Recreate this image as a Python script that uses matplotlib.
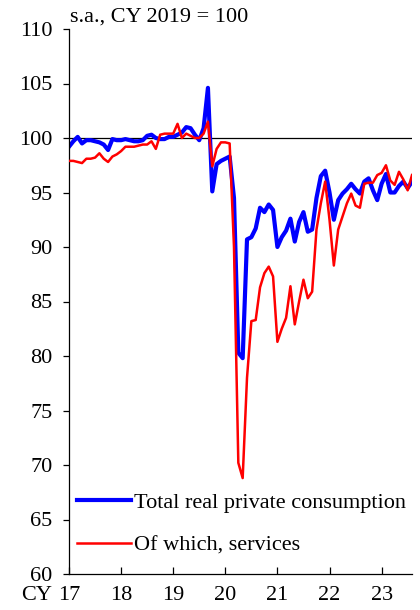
import matplotlib.pyplot as plt
from matplotlib.transforms import offset_copy
import numpy as np

plt.rcParams['font.family'] = ['Liberation Serif', 'DejaVu Serif']
plt.rcParams['font.size'] = 16

# monthly, Jan 2017 - Aug 2023 (s.a., CY2019 = 100)
total = [
    99.2, 99.7, 100.1, 99.5, 99.8, 99.8, 99.7, 99.6, 99.4, 98.9, 99.9, 99.8,       # 2017
    99.8, 99.9, 99.8, 99.7, 99.7, 99.8, 100.2, 100.3, 100.0, 99.9, 99.9, 100.1,    # 2018
    100.1, 100.3, 100.5, 101.0, 100.9, 100.3, 99.8, 100.9, 104.6, 95.1, 97.6, 97.9,  # 2019
    98.1, 98.3, 94.5, 80.3, 79.8, 90.7, 90.9, 91.7, 93.6, 93.2, 93.9, 93.4,        # 2020
    90.0, 90.9, 91.5, 92.6, 90.5, 92.3, 93.2, 91.4, 91.6, 94.5, 96.5, 97.0,        # 2021
    95.0, 92.5, 94.3, 94.9, 95.3, 95.8, 95.3, 94.9, 96.0, 96.3, 95.2, 94.3,        # 2022
    95.8, 96.7, 95.0, 95.0, 95.6, 96.0, 95.4, 96.0,                                # 2023
]
services = [
    97.9, 97.9, 97.8, 97.7, 98.1, 98.1, 98.2, 98.6, 98.1, 97.8, 98.3, 98.5,        # 2017
    98.8, 99.2, 99.2, 99.2, 99.3, 99.4, 99.4, 99.7, 99.0, 100.3, 100.4, 100.4,     # 2018
    100.4, 101.3, 100.0, 100.4, 100.2, 100.0, 100.0, 100.4, 101.5, 97.4, 99.0, 99.6,  # 2019
    99.6, 99.5, 90.0, 70.2, 68.8, 78.0, 83.2, 83.3, 86.3, 87.6, 88.2, 87.3,        # 2020
    81.3, 82.5, 83.5, 86.4, 82.9, 85.0, 87.0, 85.3, 85.9, 91.6, 94.0, 96.0,        # 2021
    92.5, 88.3, 91.6, 92.8, 94.0, 94.9, 93.8, 93.6, 95.8, 95.9, 95.9, 96.6,        # 2022
    96.8, 97.5, 96.1, 95.7, 96.9, 96.2, 95.2, 96.6,                                # 2023
]
years = [17, 18, 19, 20, 21, 22, 23]

x = 2017 + np.arange(len(total)) / 12

fig = plt.figure(figsize=(4.2, 6.1), dpi=100)
ax = fig.add_axes([69/420, 1-574/610, 343/420, 545/610])

ax.axhline(100, color='black', lw=0.9, zorder=1)
ax.plot(x, total, color='#0000ff', lw=3.0, label='Total real private consumption', zorder=2)
ax.plot(x, services, color='#ff0000', lw=1.8, label='Of which, services', zorder=3)

ax.set_xlim(2017, x[-1])
ax.set_ylim(60, 110)
ax.set_yticks(np.arange(60, 111, 5))
ax.set_xticks([2000 + y for y in years])
ax.set_xticklabels([str(y) for y in years])
xpad = 9
ax.tick_params(axis='y', direction='out', length=4, width=0.9, pad=8)
ax.tick_params(axis='x', direction='in', length=5, width=0.9, pad=xpad)
for s in ['top', 'right']:
    ax.spines[s].set_visible(False)
for s in ['left', 'bottom']:
    ax.spines[s].set_linewidth(0.9)

# "CY" in front of the first year label
tr = offset_copy(ax.transAxes, fig=fig, y=-xpad, units='points')
ax.text(-0.05, 0, 'CY', transform=tr, ha='right', va='top')
fig.text(70/420, 1-17/610, 's.a., CY 2019 = 100', ha='left', va='center')

ax.legend(loc='center left', bbox_to_anchor=(8/343, 0.092), frameon=False,
          borderpad=0, borderaxespad=0, handlelength=2.45, handletextpad=0.1,
          labelspacing=0.98)

fig.savefig('out.png', dpi=100)
